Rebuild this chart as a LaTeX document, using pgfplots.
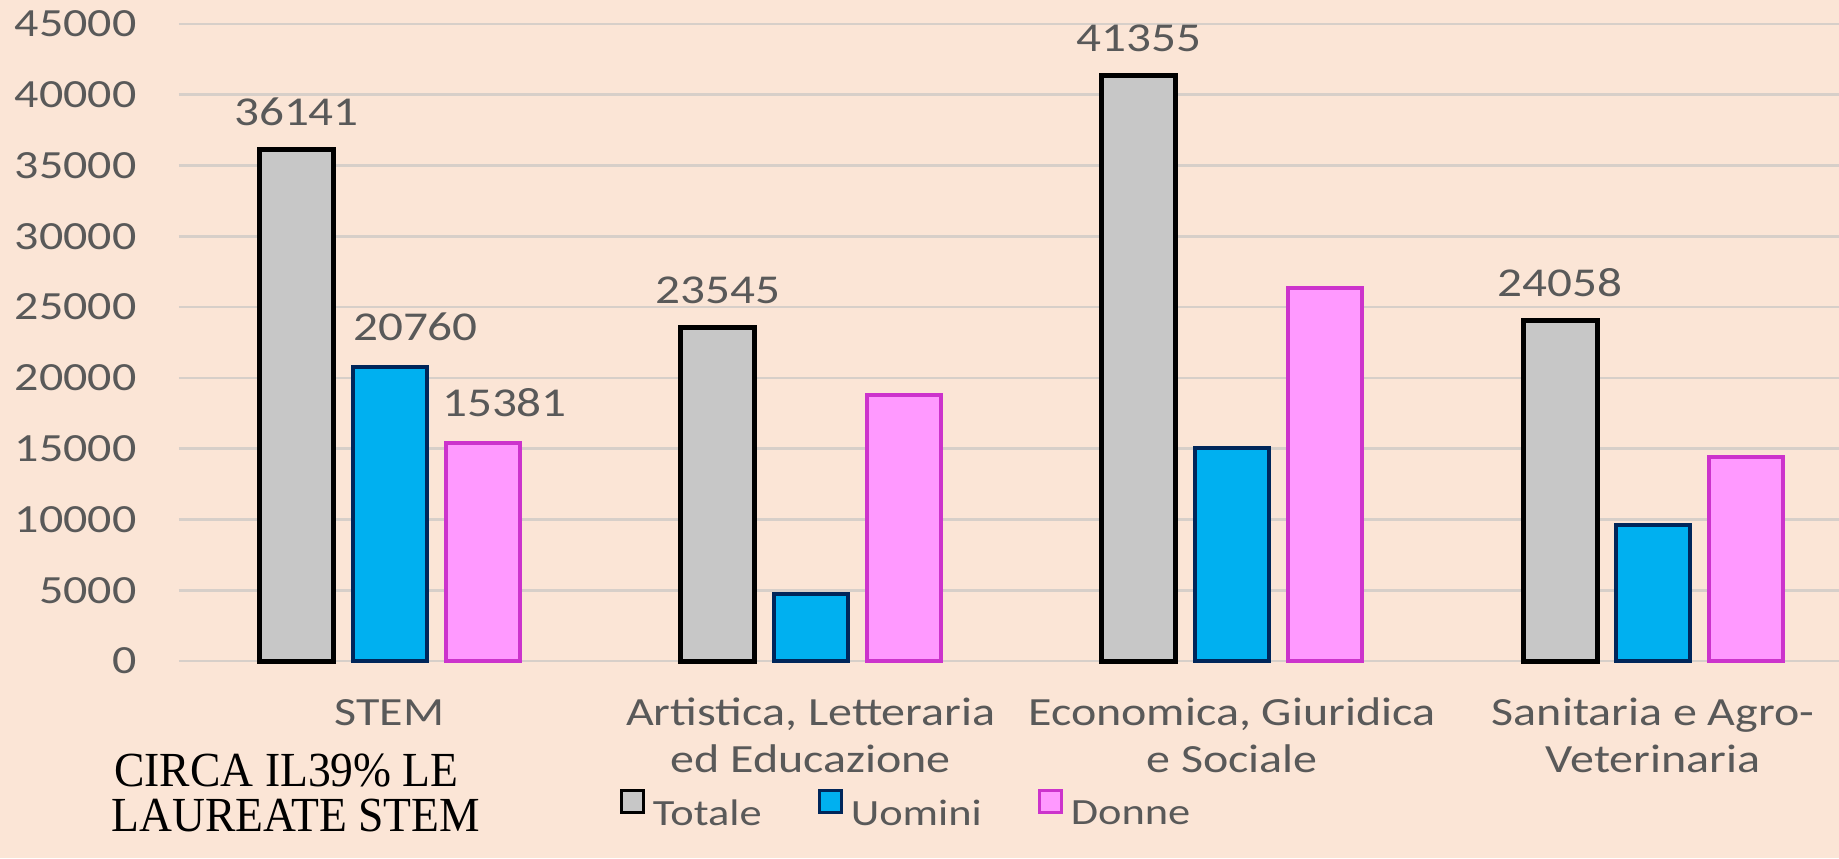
\documentclass[border=0pt]{standalone}
\usepackage{fontspec}
\setmainfont{Carlito}[FakeStretch=1.2]
\newfontfamily\timesfont{Liberation Serif}[FakeStretch=0.93]
\usepackage{pgfplots}
\pgfplotsset{compat=1.18}

\definecolor{bg}{RGB}{251,229,214}
\definecolor{gridc}{RGB}{215,207,201}
\definecolor{txt}{RGB}{89,89,89}
\definecolor{totfill}{RGB}{199,199,199}
\definecolor{uomfill}{RGB}{0,176,240}
\definecolor{uomdraw}{RGB}{0,38,90}
\definecolor{donfill}{RGB}{255,153,255}
\definecolor{dondraw}{RGB}{204,51,204}

\begin{document}
\begin{tikzpicture}
\fill[bg] (0,0) rectangle (919.5pt,429pt);
\useasboundingbox (0,0) rectangle (919.5pt,429pt);
\begin{axis}[
    at={(89.45pt,98.5pt)}, anchor=south west,
    scale only axis,
    width=842.4pt, height=318.6pt,
    xmin=-0.5, xmax=3.5,
    ymin=0, ymax=45000,
    ybar, bar width=37pt,
    clip=false,
    axis line style={draw=none},
    major tick length=0pt,
    tick style={draw=none},
    ymajorgrids=true,
    major grid style={draw=gridc, line width=1.3pt},
    ytick={0,5000,...,45000},
    scaled y ticks=false,
    yticklabel style={/pgf/number format/assume math mode=true,
        /pgf/number format/1000 sep={},
        font=\fontsize{20}{24}\selectfont, text=txt,
        anchor=east, inner sep=0pt, xshift=-21pt},
    xtick={0,1,2,3},
    xticklabels={{\strut STEM},
        {\strut Artistica, Letteraria\\ed Educazione},
        {\strut Economica, Giuridica\\e Sociale},
        {\strut Sanitaria e Agro-\\Veterinaria}},
    xticklabel style={font=\fontsize{20}{23.5}\selectfont, text=txt,
        align=center, anchor=north, inner sep=0pt, yshift=-15.5pt},
    point meta=explicit symbolic,
    nodes near coords={\pgfplotspointmeta},
    every node near coord/.append style={font=\fontsize{20.5}{24}\selectfont,
        text=txt, anchor=south, inner sep=0pt, yshift=10.5pt},
    legend columns=3,
    legend image code/.code={\draw[#1, line width=1.5pt] (0pt,0.5pt) rectangle (11pt,11.5pt);},
    legend style={draw=none, fill=none,
        at={(0.431,-0.232)}, anchor=center,
        font=\fontsize{18.5}{22}\selectfont, text=txt,
        nodes={inner sep=0pt},
        /tikz/every odd column/.append style={column sep=4pt},
        /tikz/every even column/.append style={column sep=28pt}},
]
% Totale
\addplot[fill=totfill, draw=black, line width=2.5pt, bar shift=-46.5pt]
    coordinates {(0,36141)[36141] (1,23545)[23545] (2,41355)[41355] (3,24058)[24058]};
% Uomini
\addplot[fill=uomfill, draw=uomdraw, line width=2pt, bar shift=0pt,
    every node near coord/.append style={xshift=13pt, yshift=1.5pt}]
    coordinates {(0,20760)[20760] (1,4730) (2,15040) (3,9620)};
% Donne
\addplot[fill=donfill, draw=dondraw, line width=2pt, bar shift=46.5pt,
    every node near coord/.append style={xshift=11pt, yshift=1.5pt}]
    coordinates {(0,15381)[15381] (1,18815) (2,26315) (3,14438)};
\legend{Totale, Uomini, Donne}
\end{axis}
\node[anchor=base west, inner sep=0pt, font=\timesfont\fontsize{24.5}{29}\selectfont]
    at (57pt,36pt) {CIRCA IL39\% LE};
\node[anchor=base west, inner sep=0pt, font=\timesfont\fontsize{24.5}{29}\selectfont]
    at (55.5pt,13.5pt) {LAUREATE STEM};
\end{tikzpicture}
\end{document}
